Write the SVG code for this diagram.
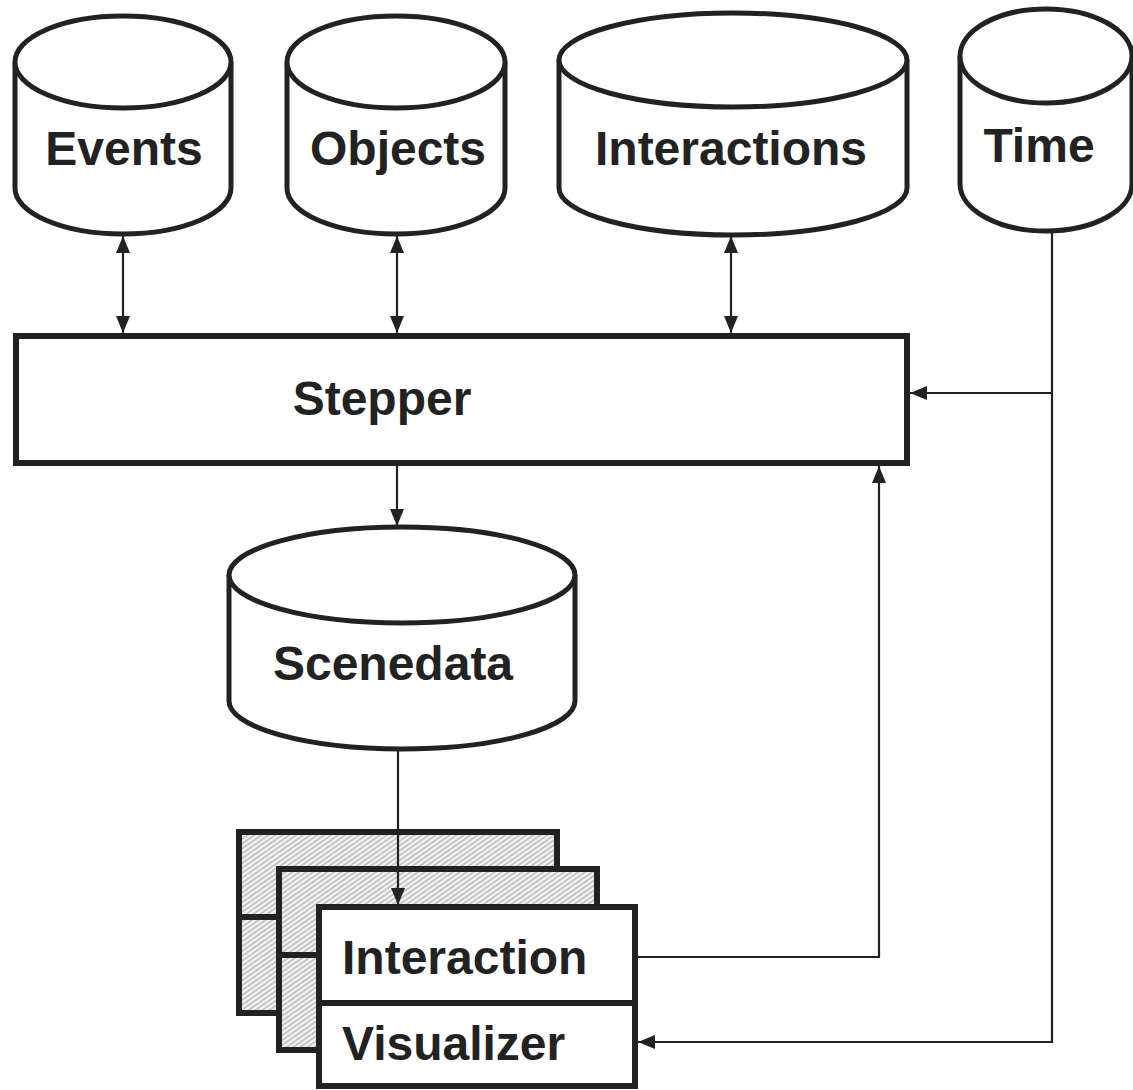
<svg xmlns="http://www.w3.org/2000/svg" width="1133" height="1090" viewBox="0 0 1133 1090">
  <style>
    .cyl { fill: #fff; stroke: #222; stroke-width: 5; }
    .box { fill: #fff; stroke: #222; stroke-width: 6; }
    .hbox { fill: url(#hatch); stroke: #222; stroke-width: 6; }
    .div { stroke: #222; stroke-width: 6; fill: none; }
    .lbl { font-family: "Liberation Sans", Arial, sans-serif; font-weight: bold; font-size: 48px; fill: #222; }
    .mid { text-anchor: middle; }
    .con { stroke: #222; stroke-width: 2.2; fill: none; }
  </style>
  <defs>
    <marker id="arr" markerUnits="userSpaceOnUse" markerWidth="17" markerHeight="14" viewBox="0 0 17 14" refX="17" refY="7" orient="auto-start-reverse">
      <path d="M0,0 L17,7 L0,14 Z" fill="#222"/>
    </marker>
    <pattern id="hatch" patternUnits="userSpaceOnUse" width="6" height="4" patternTransform="rotate(-35)">
      <rect width="6" height="4" fill="#f4f4f4"/>
      <path d="M0,2 H6" stroke="#999" stroke-width="1"/>
    </pattern>
  </defs>
  <rect width="1133" height="1090" fill="#fff"/>

  <g id="events">
    <path class="cyl" d="M15,62 L15,188 A108,46 0 0 0 231,188 L231,62"/>
    <ellipse class="cyl" cx="123" cy="62" rx="108" ry="46"/>
    <text class="lbl mid" x="124" y="165">Events</text>
  </g>
  <g id="objects">
    <path class="cyl" d="M287,62 L287,188 A109,46 0 0 0 505,188 L505,62"/>
    <ellipse class="cyl" cx="396" cy="62" rx="109" ry="46"/>
    <text class="lbl mid" x="398" y="165">Objects</text>
  </g>
  <g id="interactions">
    <path class="cyl" d="M559,60 L559,188 A174,47 0 0 0 907,188 L907,60"/>
    <ellipse class="cyl" cx="733" cy="60" rx="174" ry="47"/>
    <text class="lbl mid" x="731" y="165">Interactions</text>
  </g>
  <g id="time">
    <path class="cyl" d="M960,56 L960,184 A86,47 0 0 0 1132,184 L1132,56"/>
    <ellipse class="cyl" cx="1046" cy="56" rx="86" ry="47"/>
    <text class="lbl mid" x="1039" y="162">Time</text>
  </g>
  <g id="stepper">
    <rect class="box" x="16" y="336" width="891" height="127"/>
    <text class="lbl mid" x="382" y="415">Stepper</text>
  </g>
  <g id="scenedata">
    <path class="cyl" d="M229,575 L229,701 A173,48 0 0 0 575,701 L575,575"/>
    <ellipse class="cyl" cx="402" cy="575" rx="173" ry="48"/>
    <text class="lbl mid" x="393" y="680">Scenedata</text>
  </g>
  <g id="visualizer-stack">
    <rect class="hbox" x="239" y="832" width="318" height="181"/>
    <line class="div" x1="239" y1="917" x2="557" y2="917"/>
    <rect class="hbox" x="279" y="869" width="318" height="181"/>
    <line class="div" x1="279" y1="955" x2="597" y2="955"/>
  </g>
  <g id="interaction-visualizer">
    <rect class="box" x="319" y="907" width="316" height="179"/>
    <line class="div" x1="319" y1="1003" x2="635" y2="1003"/>
    <text class="lbl" x="342" y="974">Interaction</text>
    <text class="lbl" x="342" y="1060">Visualizer</text>
  </g>

  <g id="connectors">
    <line class="con" x1="123" y1="236" x2="123" y2="333" marker-start="url(#arr)" marker-end="url(#arr)"/>
    <line class="con" x1="397" y1="236" x2="397" y2="333" marker-start="url(#arr)" marker-end="url(#arr)"/>
    <line class="con" x1="731" y1="236" x2="731" y2="333" marker-start="url(#arr)" marker-end="url(#arr)"/>
    <polyline class="con" points="1052,233 1052,1042 638,1042" marker-end="url(#arr)"/>
    <line class="con" x1="1052" y1="393" x2="910" y2="393" marker-end="url(#arr)"/>
    <line class="con" x1="397" y1="466" x2="397" y2="526" marker-end="url(#arr)"/>
    <line class="con" x1="398" y1="750" x2="398" y2="905" marker-end="url(#arr)"/>
    <polyline class="con" points="638,957 879,957 879,466" marker-end="url(#arr)"/>
  </g>
</svg>
